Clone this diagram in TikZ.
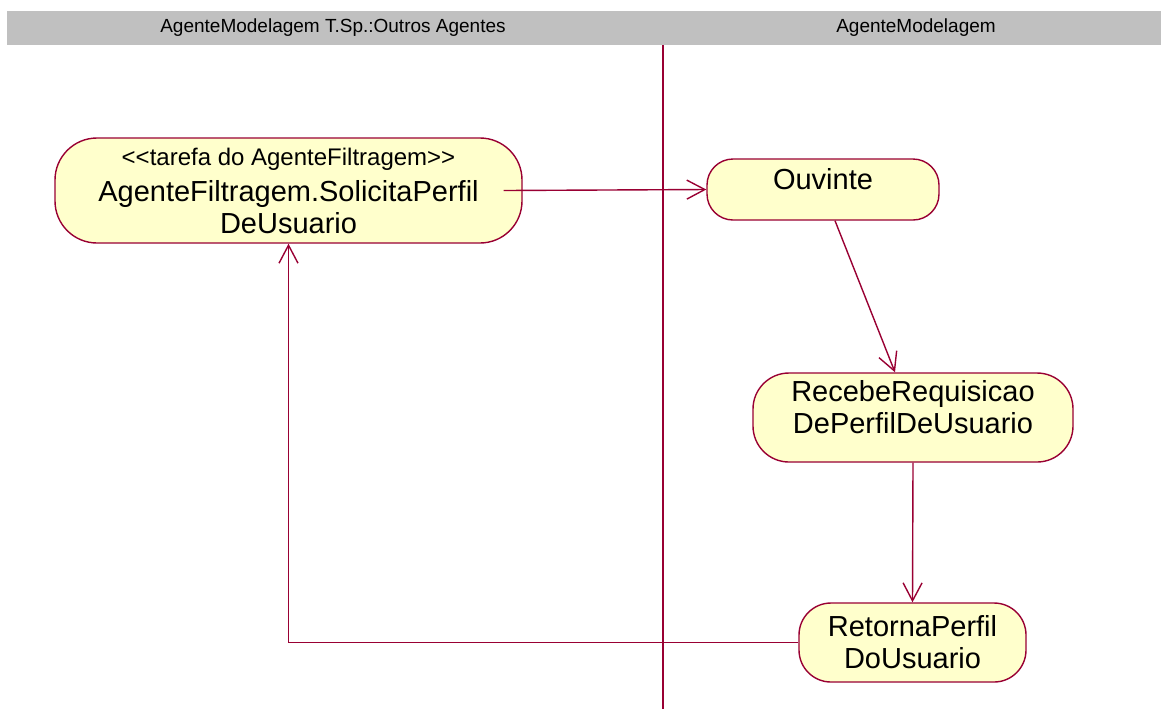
\documentclass[tikz,border=0pt]{standalone}
\usepackage{fontspec}
\setmainfont{Liberation Sans}
\usetikzlibrary{arrows.meta, calc, positioning}
\definecolor{roseRed}{RGB}{153,0,51}
\definecolor{roseFill}{RGB}{255,255,204}
\definecolor{roseGray}{RGB}{192,192,192}
\tikzset{
    activity/.style={draw=roseRed, fill=roseFill, line width=0.7pt, rectangle, align=center, inner sep=0pt, font=\fontsize{14.5}{16}\selectfont},
    flow/.style={draw=roseRed, line width=0.7pt, -{Straight Barb[length=9pt, width=9.5pt]}},
    lane/.style={draw=roseRed, line width=1pt},
    laneTitle/.style={font=\fontsize{9.5}{11}\selectfont, inner sep=0pt},
}
\newcommand{\stereo}[1]{{\fontsize{12}{13}\selectfont <{}<#1>{}>}}

\begin{document}
\begin{tikzpicture}[x=0.5pt, y=-0.5pt]
        \useasboundingbox (0,0) rectangle (1161,709);
        % cabecalho das raias
        \fill[roseGray] (7,11) rectangle (1161,45);
        \node[laneTitle] (hdrleft) at (333,28) {AgenteModelagem T.Sp.:Outros Agentes};
        \node[laneTitle] (hdrright) at (916,28) {AgenteModelagem};
        \draw[lane] (663,45) -- (663,709);

        \node[activity, minimum width=233.5pt, minimum height=52.5pt, rounded corners=21pt] (solicita) at (288.5,190.5) {\stereo{tarefa do AgenteFiltragem}\\[2pt]AgenteFiltragem.SolicitaPerfil\\DeUsuario};
        \node[activity, minimum width=116pt, minimum height=30.5pt, rounded corners=13pt, text depth=11pt] (ouvinte) at (823,189.5) {Ouvinte};
        \node[activity, minimum width=160pt, minimum height=44.5pt, rounded corners=18pt] (recebe) at (913,417.5) {RecebeRequisicao\\DePerfilDeUsuario\\[-5pt]\mbox{}};
        \node[activity, minimum width=113.5pt, minimum height=39.5pt, rounded corners=16pt] (retorna) at (912.5,642.5) {RetornaPerfil\\DoUsuario};

        \draw[flow] ($(solicita.east)+(-19,0)$) -- (ouvinte.west);
        \draw[flow] ($(ouvinte.south)+(12,0)$) -- ($(recebe.north)+(-18,0)$);
        \draw[flow] (recebe.south) -- (retorna.north);
        \draw[flow] (retorna.west) -| (solicita.south);
        
    \end{tikzpicture}
\end{document}
